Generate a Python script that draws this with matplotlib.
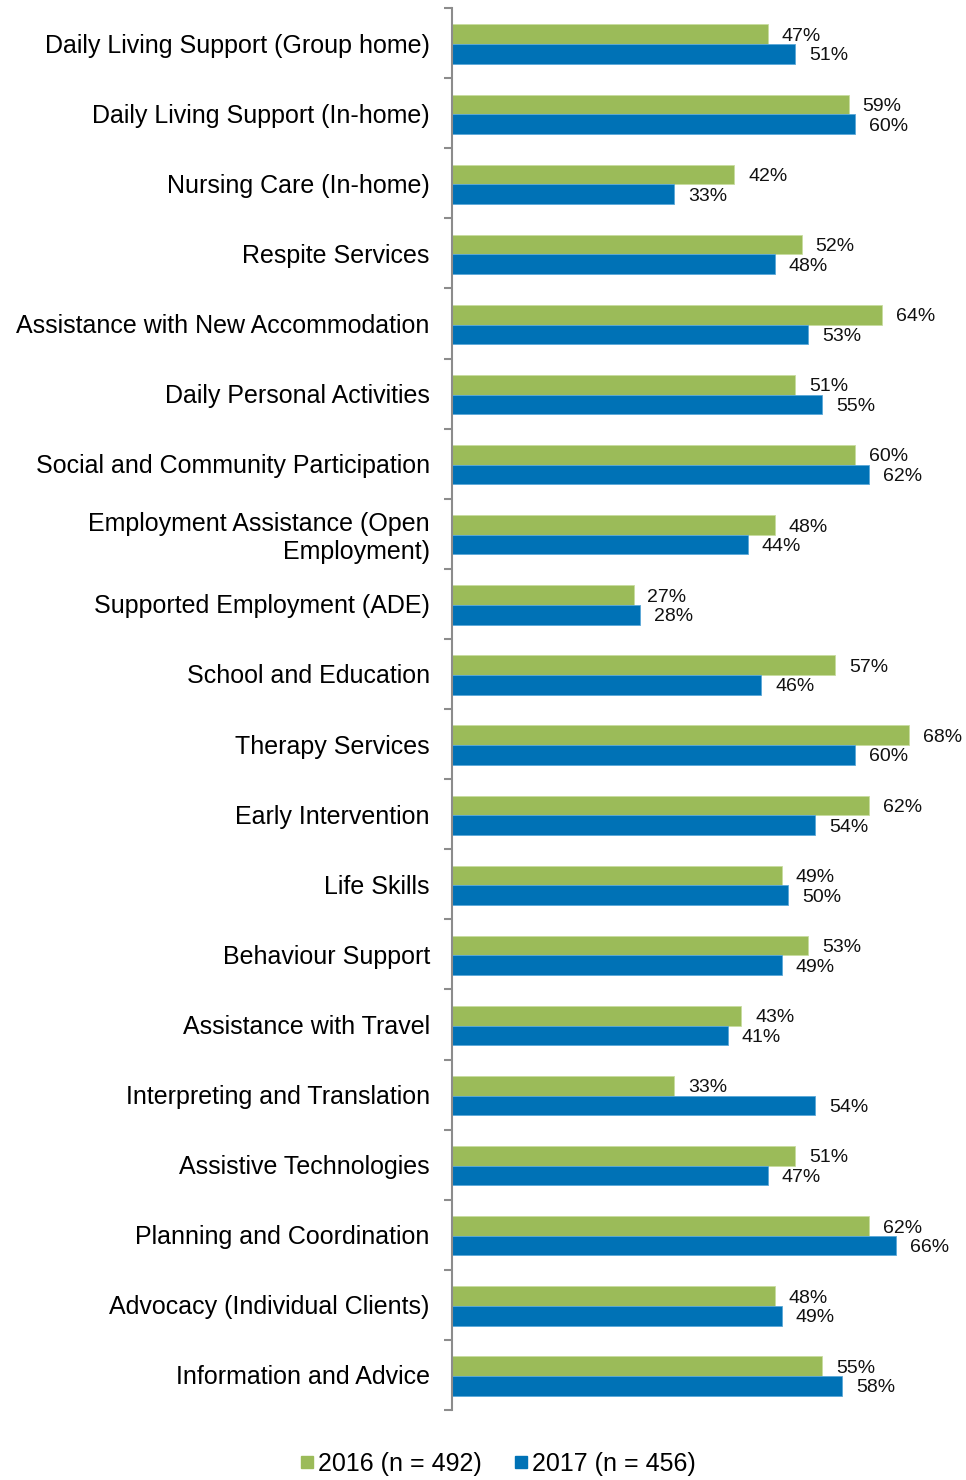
import matplotlib.pyplot as plt
import numpy as np

plt.rcParams['font.family'] = ['Liberation Sans', 'DejaVu Sans']

categories = [
    "Daily Living Support (Group home)",
    "Daily Living Support (In-home)",
    "Nursing Care (In-home)",
    "Respite Services",
    "Assistance with New Accommodation",
    "Daily Personal Activities",
    "Social and Community Participation",
    "Employment Assistance (Open\nEmployment)",
    "Supported Employment (ADE)",
    "School and Education",
    "Therapy Services",
    "Early Intervention",
    "Life Skills",
    "Behaviour Support",
    "Assistance with Travel",
    "Interpreting and Translation",
    "Assistive Technologies",
    "Planning and Coordination",
    "Advocacy (Individual Clients)",
    "Information and Advice",
]
vals_2016 = [47, 59, 42, 52, 64, 51, 60, 48, 27, 57, 68, 62, 49, 53, 43, 33, 51, 62, 48, 55]
vals_2017 = [51, 60, 33, 48, 53, 55, 62, 44, 28, 46, 60, 54, 50, 49, 41, 54, 47, 66, 49, 58]
series_labels = ["2016 (n = 492)", "2017 (n = 456)"]

green = "#9BBB59"
blue = "#0072B6"

fig = plt.figure(figsize=(9.66, 14.8), dpi=100)
ax = fig.add_axes([452 / 966, 1 - 1410 / 1480, 1 - 452 / 966 - 0.01, (1410 - 8) / 1480])

y = np.arange(len(categories))
h = 0.28
shift = 0.015  # bars sit a touch below the band centre
b1 = ax.barh(y - h / 2 + shift, vals_2016, height=h, color=green, edgecolor="#c8dca0", linewidth=0.6)
b2 = ax.barh(y + h / 2 + shift, vals_2017, height=h, color=blue, edgecolor="#5aa8d8", linewidth=0.6)

for bars, vals in ((b1, vals_2016), (b2, vals_2017)):
    for bar, v in zip(bars, vals):
        ax.annotate(f"{v}%", (v, bar.get_y() + bar.get_height() / 2),
                    xytext=(10, -1.5), textcoords="offset points",
                    ha="left", va="center", fontsize=14, color="#111111")

ax.set_ylim(len(categories) - 0.5, -0.5)
ax.set_xlim(0, 75)

ax.set_yticks(y)
ax.set_yticklabels(categories, fontsize=18, ha="right")
ax.tick_params(axis="y", which="major", length=0, pad=16)
ax.set_yticks(np.arange(len(categories) + 1) - 0.5, minor=True)
ax.tick_params(axis="y", which="minor", length=6, width=1.5, color="#8c8c8c")

ax.set_xticks([])
for s in ("top", "right", "bottom"):
    ax.spines[s].set_visible(False)
ax.spines["left"].set_color("#8c8c8c")
ax.spines["left"].set_linewidth(1.5)

handles = [plt.Line2D([], [], marker="s", linestyle="", markersize=9, color=c) for c in (green, blue)]
fig.legend(handles, series_labels, loc="center", bbox_to_anchor=(497 / 966, 1 - 1464 / 1480),
           ncol=2, frameon=False, fontsize=18, handletextpad=0.1, columnspacing=1.2,
           handlelength=0.7)

fig.savefig("out.png", dpi=100)
